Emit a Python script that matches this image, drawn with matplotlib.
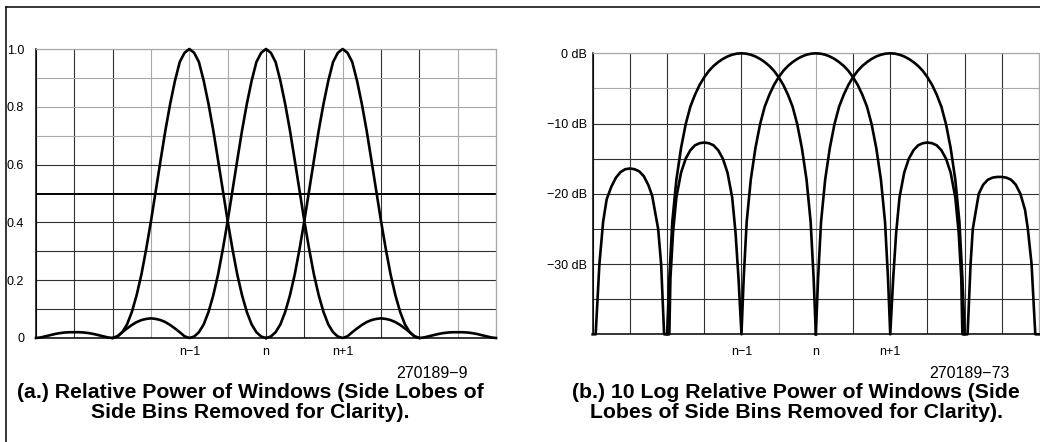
import matplotlib
matplotlib.use("Agg")
import matplotlib.pyplot as plt
from matplotlib.lines import Line2D

plt.rcParams['font.family'] = ['Liberation Sans', 'DejaVu Sans']

# eixo x: posição em bins relativa a n (grade a cada meio bin)
bin_ticks = [-1, 0, 1]
bin_labels = ['n\u22121', 'n', 'n+1']

# ---------------- (a) potência relativa ----------------
# lobo principal (x relativo ao centro do bin)
a_princ_x = [-1.0, -0.9375, -0.875, -0.8125, -0.75, -0.6875, -0.625, -0.5625, -0.5,
             -0.4375, -0.375, -0.3125, -0.25, -0.1875, -0.125, -0.0625, 0.0,
             0.0625, 0.125, 0.1875, 0.25, 0.3125, 0.375, 0.4375, 0.5,
             0.5625, 0.625, 0.6875, 0.75, 0.8125, 0.875, 0.9375, 1.0]
a_princ_y = [0.0, 0.005, 0.020, 0.047, 0.090, 0.148, 0.220, 0.308, 0.405,
             0.510, 0.615, 0.718, 0.810, 0.890, 0.955, 0.987, 1.0,
             0.987, 0.955, 0.890, 0.810, 0.718, 0.615, 0.510, 0.405,
             0.308, 0.220, 0.148, 0.090, 0.047, 0.020, 0.005, 0.0]
# lobos laterais do bin n (x = distância a n)
a_lobo1_x = [1.0, 1.0625, 1.125, 1.1875, 1.25, 1.3125, 1.375, 1.4375, 1.5,
             1.5625, 1.625, 1.6875, 1.75, 1.8125, 1.875, 1.9375, 2.0]
a_lobo1_y = [0.0, 0.006, 0.020, 0.033, 0.045, 0.055, 0.062, 0.066, 0.068,
             0.066, 0.062, 0.055, 0.045, 0.033, 0.020, 0.006, 0.0]
a_lobo2_x = [2.0, 2.0625, 2.125, 2.1875, 2.25, 2.3125, 2.375, 2.4375, 2.5,
             2.5625, 2.625, 2.6875, 2.75, 2.8125, 2.875, 2.9375, 3.0]
a_lobo2_y = [0.0, 0.002, 0.006, 0.010, 0.014, 0.017, 0.019, 0.020, 0.020,
             0.020, 0.019, 0.017, 0.014, 0.010, 0.006, 0.002, 0.0]

# ---------------- (b) 10 log da potência relativa (dB) ----------------
b_princ_x = [-1.0, -0.97, -0.93, -0.875, -0.8125, -0.75, -0.6875, -0.625, -0.5625, -0.5,
             -0.4375, -0.375, -0.3125, -0.25, -0.1875, -0.125, -0.0625, 0.0,
             0.0625, 0.125, 0.1875, 0.25, 0.3125, 0.375, 0.4375,
             0.5, 0.5625, 0.625, 0.6875, 0.75, 0.8125, 0.875, 0.93, 0.97, 1.0]
b_princ_y = [-40, -32, -24, -18.0, -13.5, -10.1, -7.6, -5.9, -4.5, -3.4,
             -2.5, -1.8, -1.25, -0.8, -0.45, -0.2, -0.05, 0.0,
             -0.05, -0.2, -0.45, -0.8, -1.25, -1.8, -2.5,
             -3.4, -4.5, -5.9, -7.6, -10.1, -13.5, -18.0, -24, -32, -40]
b_lobo1_x = [1.0, 1.04, 1.08, 1.125, 1.1875, 1.25, 1.3125, 1.375, 1.4375, 1.5,
             1.5625, 1.625, 1.6875, 1.75, 1.8125, 1.875, 1.92, 1.955, 1.97]
b_lobo1_y = [-40, -32, -25.5, -20.5, -17.0, -15.0, -13.8, -13.1, -12.8, -12.7,
             -12.8, -13.1, -13.8, -15.0, -17.0, -20.5, -25.5, -32, -40]
# segundo lobo: lado esquerdo (x = distância a n) e lado direito
b_lobo2e_x = [2.04, 2.08, 2.12, 2.2, 2.25, 2.3125, 2.375, 2.4375, 2.5,
              2.5625, 2.625, 2.6875, 2.75, 2.8125, 2.86, 2.91, 2.96, 3.0]
b_lobo2e_y = [-40, -30, -25, -20.3, -18.8, -17.5, -16.8, -16.5, -16.4,
              -16.5, -16.9, -17.7, -19.0, -20.8, -24, -30, -40, -40]
b_lobo2d_x = [2.04, 2.08, 2.11, 2.19, 2.25, 2.3125, 2.375, 2.4375, 2.5,
              2.5625, 2.625, 2.6875, 2.75, 2.8125, 2.85, 2.9, 2.95, 3.0]
b_lobo2d_y = [-40, -30, -25, -20.0, -18.7, -18.0, -17.7, -17.6, -17.6,
              -17.7, -18.0, -18.7, -20.0, -22.3, -25, -30, -40, -40]

a_yticks = [0, 0.2, 0.4, 0.6, 0.8, 1.0]
a_ylabels = ['0', '0.2', '0.4', '0.6', '0.8', '1.0']
b_yticks = [0, -10, -20, -30]
b_ylabels = ['0 dB', '\u221210 dB', '\u221220 dB', '\u221230 dB']

# monta a curva do bin n (lobos espelhados à esquerda)
a_n_x = ([-v for v in a_lobo2_x[::-1]] + [-v for v in a_lobo1_x[::-1]] + a_princ_x
         + a_lobo1_x + a_lobo2_x)
a_n_y = a_lobo2_y[::-1] + a_lobo1_y[::-1] + a_princ_y + a_lobo1_y + a_lobo2_y
b_n_x = ([-v for v in b_lobo2e_x[::-1]] + [-v for v in b_lobo1_x[::-1]] + b_princ_x
         + b_lobo1_x + b_lobo2d_x)
b_n_y = b_lobo2e_y[::-1] + b_lobo1_y[::-1] + b_princ_y + b_lobo1_y + b_lobo2d_y

W, H = 1040, 442
fig = plt.figure(figsize=(W / 100, H / 100), dpi=100)

CINZA = '#a8a8a8'
ESCURO = '#303030'


def grade(ax, xs, ys, cores_x, cores_y, grossa=None):
    for x, c in zip(xs, cores_x):
        ax.axvline(x, color=c, lw=0.8, zorder=1)
    for y, c in zip(ys, cores_y):
        lw = 1.4 if y == grossa else 0.8
        ax.axhline(y, color=c, lw=lw, zorder=1)


xs_grade = [-3 + 0.5 * k for k in range(13)]
curva = dict(color='black', lw=1.9, zorder=3, clip_on=False, solid_joinstyle='round')

# ---------- (a) ----------
ax1 = fig.add_axes([36 / W, (H - 338) / H, 460 / W, 289 / H])
ax1.set_xlim(-3, 3)
ax1.set_ylim(0, 1.0)
grade(ax1, xs_grade, [round(0.1 * k, 1) for k in range(11)],
      [ESCURO, ESCURO, ESCURO, CINZA, CINZA, CINZA, ESCURO, ESCURO, CINZA, ESCURO, ESCURO, CINZA, CINZA],
      [ESCURO, ESCURO, ESCURO, ESCURO, ESCURO, 'black', ESCURO, CINZA, CINZA, CINZA, CINZA],
      grossa=0.5)
ax1.plot(a_n_x, a_n_y, **curva)
for c in [-1, 1]:
    ax1.plot([c + v for v in a_princ_x], a_princ_y, **curva)
ax1.set_yticks(a_yticks)
ax1.set_yticklabels(a_ylabels)
ax1.set_xticks(bin_ticks)
ax1.set_xticklabels(bin_labels)
ax1.tick_params(axis='y', length=0, pad=8.5, labelsize=9)
ax1.tick_params(axis='x', length=0, pad=5.5, labelsize=9)

# ---------- (b) ----------
ax2 = fig.add_axes([592.7 / W, (H - 334.3) / H, 446.3 / W, 281 / H])
ax2.set_xlim(-3, 3)
ax2.set_ylim(-40, 0)
grade(ax2, xs_grade, [-5 * k for k in range(9)],
      [ESCURO, ESCURO, ESCURO, ESCURO, ESCURO, CINZA, CINZA, ESCURO, ESCURO, ESCURO, ESCURO, ESCURO, CINZA],
      [CINZA, CINZA, ESCURO, ESCURO, ESCURO, ESCURO, ESCURO, ESCURO, ESCURO])
ax2.plot(b_n_x, b_n_y, **curva)
for c in [-1, 1]:
    ax2.plot([c + v for v in b_princ_x], b_princ_y, **curva)
ax2.set_yticks(b_yticks)
ax2.set_yticklabels(b_ylabels)
ax2.set_xticks(bin_ticks)
ax2.set_xticklabels(bin_labels)
ax2.tick_params(axis='y', length=0, pad=4, labelsize=9)
ax2.tick_params(axis='x', length=0, pad=8.2, labelsize=9)

for ax in (ax1, ax2):
    for lado in ['left', 'bottom']:
        ax.spines[lado].set_color('black')
        ax.spines[lado].set_linewidth(1.1)
    for lado in ['top', 'right']:
        ax.spines[lado].set_color(CINZA)
        ax.spines[lado].set_linewidth(0.9)

# moldura externa
fig.add_artist(Line2D([6 / W, 1], [1 - 7 / H, 1 - 7 / H], transform=fig.transFigure, color='black', lw=1.1))
fig.add_artist(Line2D([6 / W, 6 / W], [0, 1 - 7 / H], transform=fig.transFigure, color='black', lw=1.1))

# códigos das figuras
fig.text(468 / W, 1 - 373 / H, '270189\u22129', ha='right', va='center', fontsize=11.5)
fig.text(1010 / W, 1 - 373 / H, '270189\u221273', ha='right', va='center', fontsize=11.5)

# legendas
leg = dict(ha='center', va='center', fontsize=15.3, fontweight='bold')
fig.text(250 / W, 1 - 393 / H, '(a.) Relative Power of Windows (Side Lobes of', **leg)
fig.text(250 / W, 1 - 413 / H, 'Side Bins Removed for Clarity).', **leg)
fig.text(796 / W, 1 - 393 / H, '(b.) 10 Log Relative Power of Windows (Side', **leg)
fig.text(796 / W, 1 - 413 / H, 'Lobes of Side Bins Removed for Clarity).', **leg)

fig.savefig('out.png', dpi=100)
